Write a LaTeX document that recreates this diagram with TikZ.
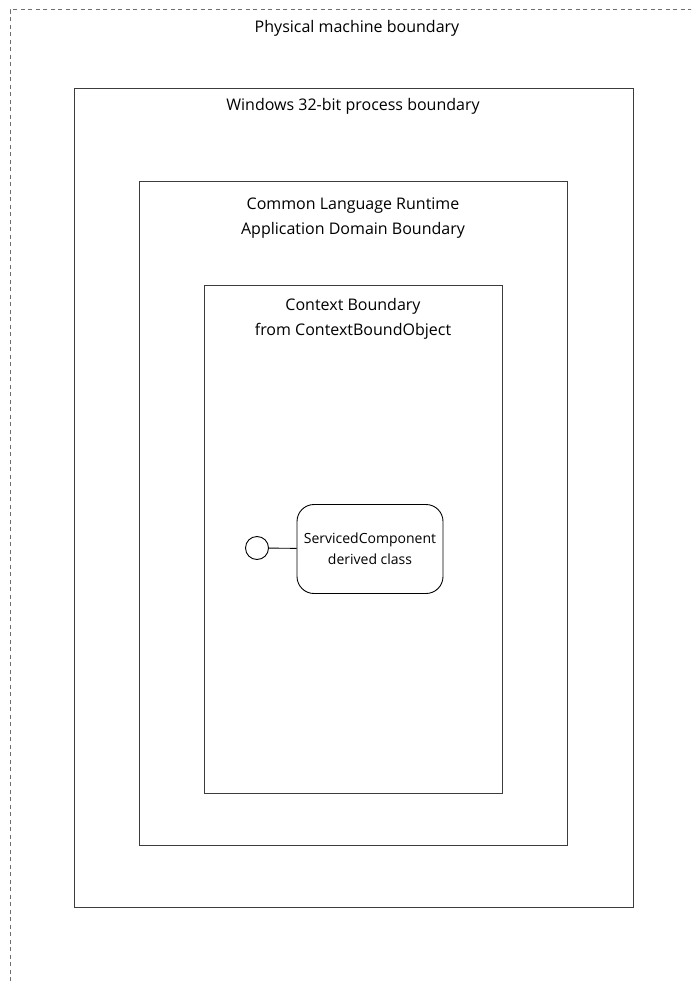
\documentclass[tikz,border=0pt]{standalone}
\usepackage{fontspec}
\setmainfont{Open Sans}
\usetikzlibrary{positioning}
\definecolor{linegray}{RGB}{60,60,60}
\definecolor{dashgray}{RGB}{110,110,110}
\tikzset{
  machine/.style  = {draw=dashgray, line width=0.9pt, dash pattern=on 4pt off 3.5pt,
                     inner sep=0pt},
  boundary/.style = {draw=linegray, line width=0.9pt, inner sep=0pt},
  title/.style    = {font=\fontsize{16}{24.5}\selectfont, align=center, inner sep=0pt},
  comp/.style     = {draw=black, line width=0.9pt, rounded corners=17pt, inner sep=0pt,
                     minimum width=146pt, minimum height=89pt, align=center,
                     font=\fontsize{14}{21}\selectfont},
  port/.style     = {circle, draw=black, line width=0.9pt, minimum size=23pt, inner sep=0pt},
}
\begin{document}
\begin{tikzpicture}[x=1pt, y=-1pt]
  \useasboundingbox (0,0) rectangle (691,984);
  \clip (0,0) rectangle (691,984);

  % nested boundaries
  \node[machine, minimum width=720pt, minimum height=1020pt, anchor=north west]
    (machine) at (9.5,9.5) {};
  \node[boundary, minimum width=559pt, minimum height=819pt, anchor=north west]
    (process) at (74,88) {};
  \node[boundary, minimum width=428pt, minimum height=664pt, anchor=north west]
    (domain) at (139,181) {};
  \node[boundary, minimum width=298pt, minimum height=508pt, anchor=north west]
    (context) at (204,285) {};

  % titles
  \node[title] (machinelbl) at (357,28) {Physical machine boundary};
  \node[title] (processlbl) at (353,106) {Windows 32-bit process boundary};
  \node[title] (domainlbl) at (353,218) {Common Language Runtime\\Application Domain Boundary};
  \node[title] (contextlbl) at (353,319) {Context Boundary\\from ContextBoundObject};

  % component with its interface
  \node[comp] (svc) at (370,549) {ServicedComponent\\derived class};
  \node[port] (iface) at (257,548) {};
  \draw[line width=0.9pt] (iface) -- (svc);
\end{tikzpicture}
\end{document}
